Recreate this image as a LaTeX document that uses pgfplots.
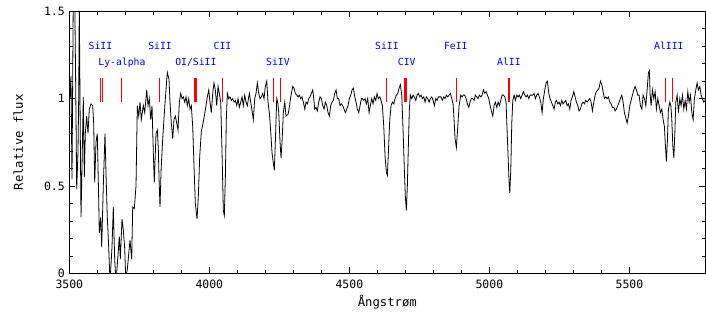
\documentclass[border=0pt]{standalone}
\usepackage{pgfplots}
\pgfplotsset{compat=1.18}
\usepackage{fontspec}
\setmainfont{DejaVu Sans Mono}
\definecolor{markred}{RGB}{255,0,0}
\begin{document}
\begin{tikzpicture}
\begin{axis}[
  at={(0,0)}, anchor=south west,
  scale only axis, width=636bp, height=262bp,
  xmin=3500, xmax=5771, ymin=0, ymax=1.5,
  xtick={3500,4000,4500,5000,5500}, ytick={0,0.5,1,1.5},
  minor x tick num=4, minor y tick num=4,
  tick align=inside, major tick length=6bp, minor tick length=3.5bp,
  tick style={black, line width=0.6pt},
  axis line style={black, line width=0.8pt},
  /pgf/number format/assume math mode=true,
  /pgf/number format/1000 sep={},
  ticklabel style={font=\fontsize{11.5}{12}\selectfont},
  xticklabel style={yshift=-3bp},
  yticklabel style={xshift=-1bp},
  every axis x label/.style={at={(axis description cs:0.5,0)}, yshift=-29bp, anchor=center},
  every axis y label/.style={at={(axis description cs:0,0.5)}, xshift=-51bp, rotate=90, anchor=center},
  label style={font=\fontsize{12.3}{13}\selectfont},
  xlabel={Ångstrøm}, ylabel={Relative flux},
  unbounded coords=jump,
]
\addplot[black, line width=0.8pt] table {
3498 1.16
3502.5 1.0
3506 1.13
3509.6 0.54
3514.3 1.6
3519.3 1.6
3524 0.9
3526.4 0.48
3531 0.69
3533.6 1.01
3535.7 1.55
3538.2 1.0
3541.8 0.32
3545.4 0.61
3550 1.01
3553.6 0.55
3557.1 0.8
3562.1 0.9
3566.8 0.8
3571.4 0.94
3577.5 0.97
3583.6 0.96
3587.1 0.86
3590.7 0.52
3595.4 0.75
3600 0.8
3605 0.42
3607.1 0.23
3612.1 0.32
3615.7 0.15
3621.4 0.5
3627.5 0.8
3631.1 0.57
3635.7 0.32
3640.7 0.15
3645.4 -0.05
3652.5 0.15
3657.1 0.38
3662.1 0.08
3666.8 -0.05
3671.4 0.05
3678.6 0.21
3682.1 0.08
3688.2 0.31
3692.9 0.25
3697.9 0.14
3701.4 -0.02
3707.1 0.02
3712.1 0.11
3716.8 0.19
3722.9 0.08
3726.4 0.38
3732.1 0.37
3738.2 0.5
3742.9 0.96
3747.9 0.9
3752.5 0.98
3757.1 0.88
3764.3 0.96
3769.3 0.92
3776.4 1.05
3781.1 0.96
3785.7 1.0
3790.7 0.88
3795.4 0.96
3800 0.69
3803.6 0.52
3809.6 0.8
3814.3 0.82
3817.9 0.71
3820.5 0.54
3823.9 0.38
3828 0.6
3833.6 0.77
3842 0.98
3850 1.15
3856.1 1.11
3859.6 0.98
3864.3 0.86
3869.3 0.77
3873.9 0.88
3878.6 0.9
3883.6 0.86
3888.2 0.82
3892.9 0.98
3897.9 1.03
3902.5 1.0
3907.1 1.01
3912.1 0.98
3916.8 1.01
3921.4 0.96
3926.4 1.0
3931.1 0.94
3935.7 0.96
3940.7 0.84
3945.4 0.61
3950 0.40
3956.1 0.31
3960.7 0.44
3965.7 0.67
3971.4 0.81
3977.5 0.86
3982.1 0.90
3988.2 0.96
3992.9 1.01
3997.9 1.05
4002.5 0.98
4007.1 0.92
4012.1 1.03
4016.8 1.09
4021.4 1.05
4026.4 0.96
4031.1 1.07
4035.7 1.03
4040.7 0.98
4045.4 0.69
4050 0.36
4053.6 0.33
4057.1 0.54
4060.7 0.88
4064.3 1.03
4069.3 1.0
4073.9 1.01
4078.6 0.99
4083.6 1.0
4088.2 0.98
4092.9 0.99
4097.9 0.96
4102.5 1.0
4107.1 0.95
4112.1 0.98
4116.8 1.01
4121.4 0.96
4126.4 1.02
4131.1 0.98
4135.7 0.96
4142.9 1.03
4147.9 0.98
4153.6 0.92
4157.1 0.88
4162.1 1.0
4166.8 1.03
4171.4 1.09
4176.4 1.03
4181.1 1.0
4185.7 1.01
4190.7 1.03
4195.4 1.0
4200 1.07
4205 1.10
4209.6 0.98
4214.3 0.92
4219.3 0.81
4223.9 0.69
4228.6 0.63
4232.1 0.59
4235.7 0.75
4240.7 1.0
4244.3 0.98
4247.9 0.92
4252.5 0.75
4256.1 0.66
4259.6 0.75
4264.3 0.92
4269.3 0.98
4273.9 0.9
4281.1 0.91
4285.7 0.95
4290.7 1.01
4297.9 1.07
4302.5 1.06
4307.1 1.03
4312.1 1.02
4316.8 1.01
4321.4 1.02
4326.4 1.0
4331.1 1.01
4335.7 0.98
4340.7 0.94
4345.4 0.98
4350 0.97
4355 1.0
4359.6 1.01
4364.3 1.03
4369.3 1.05
4372.9 1.0
4376.4 0.94
4381.1 0.95
4385.7 0.93
4390.7 0.98
4395.4 1.01
4400 1.0
4405 0.96
4409.6 0.94
4414.3 0.98
4419.3 0.96
4423.9 0.92
4428.6 0.90
4433.6 0.96
4438.2 0.98
4442.9 0.99
4447.9 1.03
4452.5 1.05
4457.1 1.0
4462.1 1.0
4466.8 0.96
4471.4 0.97
4476.4 0.96
4481.1 0.94
4485.7 0.92
4490.7 0.94
4495.4 0.96
4500 1.0
4505 1.02
4509.6 1.05
4514.3 1.06
4519.3 1.01
4523.9 0.98
4528.6 0.94
4533.6 0.92
4538.2 0.96
4542.9 1.0
4546.4 1.0
4551.4 0.99
4556.1 1.0
4560.7 0.97
4565.7 1.0
4570.4 0.92
4575 0.96
4580 1.0
4584.6 0.97
4589.3 1.01
4594.3 0.99
4598.9 1.03
4603.6 1.0
4608.6 1.01
4613.2 0.99
4617.9 0.96
4622.9 0.84
4627.5 0.67
4632.1 0.58
4635.7 0.56
4639.3 0.69
4644.3 0.88
4648.9 0.96
4653.6 0.98
4658.6 0.97
4663.2 1.0
4667.9 1.02
4672.9 1.03
4677.5 1.06
4682.1 1.08
4687.1 1.02
4691.8 0.82
4696.4 0.59
4700 0.44
4703.6 0.36
4707.1 0.50
4710.7 0.73
4714.3 0.94
4717.9 1.02
4722.9 1.0
4727.5 1.02
4732.1 1.01
4737.1 0.99
4741.8 1.02
4746.4 1.03
4751.4 1.01
4756.1 1.02
4760.7 1.0
4765.7 1.01
4770.4 0.98
4775 1.01
4780 1.0
4784.6 0.98
4789.3 1.0
4794.3 1.01
4798.9 0.99
4803.6 0.96
4808.6 1.0
4813.2 0.99
4817.9 1.01
4822.9 1.01
4827.5 1.01
4832.1 0.99
4837.1 1.01
4841.8 1.0
4846.4 1.02
4851.4 1.01
4856.1 1.02
4860.7 1.03
4865.7 1.0
4870.4 0.97
4873.9 0.88
4877.5 0.77
4882.1 0.72
4887.1 0.84
4891.8 0.96
4897.9 1.02
4902.5 1.01
4907.1 1.02
4912.1 1.02
4916.8 1.0
4921.4 0.97
4926.4 0.95
4931.1 0.98
4935.7 1.0
4940.7 1.0
4945.4 0.99
4950 1.02
4955 1.01
4959.6 1.0
4964.3 1.02
4969.3 1.01
4973.9 1.02
4978.6 1.05
4983.6 1.03
4988.2 1.04
4992.9 1.02
4997.9 1.0
5002.5 0.96
5007.1 0.93
5012.1 0.90
5016.8 0.96
5021.4 0.98
5026.4 0.95
5031.1 0.98
5035.7 0.96
5040.7 0.99
5045.4 1.02
5050 1.02
5055 1.01
5059.6 0.98
5063.2 0.82
5066.8 0.67
5070.4 0.52
5072.9 0.46
5076.4 0.59
5080 0.86
5083.6 0.99
5088.2 1.02
5092.9 0.99
5097.9 1.02
5102.5 1.01
5107.1 1.02
5112.1 1.0
5116.8 1.02
5121.4 1.04
5126.4 1.02
5131.1 1.01
5135.7 1.02
5140.7 1.0
5145.4 1.02
5150 1.02
5155 1.02
5159.6 1.03
5164.3 1.0
5169.3 1.02
5173.9 1.03
5178.6 1.01
5183.6 0.98
5188.2 0.92
5192.9 1.0
5197.9 1.05
5202.5 1.09
5207.1 1.10
5212.1 1.03
5216.8 1.0
5221.4 0.98
5226.4 0.96
5231.1 0.94
5235.7 0.98
5239.3 0.99
5244.3 0.97
5249 0.98
5253.6 0.96
5258.6 0.99
5263.2 0.97
5267.9 0.98
5272.9 0.99
5277.5 0.96
5282.1 0.97
5287.1 0.94
5291.8 0.99
5296.4 1.01
5301.4 1.04
5306.1 1.01
5310.7 0.98
5315.7 0.96
5320.4 0.93
5325 0.94
5330 0.97
5334.6 0.98
5339.3 0.97
5344.3 0.99
5348.9 0.98
5353.6 0.99
5358.6 1.0
5363.2 0.98
5367.9 0.93
5372.9 0.98
5377.5 1.02
5382.1 1.04
5387.1 1.05
5391.8 1.06
5396.4 1.10
5401.4 1.08
5406.1 1.04
5410.7 1.0
5415.7 1.01
5420.4 1.0
5425 1.01
5430 0.98
5434.6 0.97
5439.3 0.95
5444.3 0.95
5449 0.93
5453.6 0.94
5458.6 0.96
5463.2 0.98
5467.9 1.0
5472.9 1.02
5477.5 0.98
5482.1 0.92
5487.1 0.89
5491.8 0.86
5496.4 0.9
5501.4 0.96
5506.1 0.99
5510.7 1.02
5515.7 1.05
5520.4 1.07
5525 1.05
5530 1.02
5534.6 1.02
5539.3 0.96
5544.3 0.94
5548.9 1.02
5553.6 1.0
5558.6 0.96
5563.2 1.05
5568 1.15
5571.4 1.16
5574 1.02
5577.5 0.96
5582.1 1.05
5587.1 1.0
5591.8 1.04
5596.4 0.94
5601.4 1.0
5606.1 0.96
5610.7 0.92
5615.7 0.94
5620.4 0.88
5625 0.84
5628.6 0.73
5632.1 0.64
5635.7 0.76
5639.3 0.94
5644.3 0.98
5647.9 0.96
5651.4 0.88
5655 0.73
5658.6 0.66
5662.1 0.80
5665.7 0.98
5670.4 1.02
5675 0.92
5680 1.0
5684.6 0.96
5689.3 1.02
5694.3 0.94
5699 0.99
5703.6 0.94
5708.6 1.04
5713.2 0.98
5717.9 1.02
5722.9 0.92
5727.5 0.88
5732.1 1.0
5737.1 1.05
5741.8 1.09
5746.4 1.05
5751.4 1.07
5756 1.02
5760.7 1.0
5765.7 0.98
5770.4 0.99
};
% absorption line markers
\addplot[draw=markred, line width=1.1pt] coordinates {
(3610,0.98) (3610,1.12) (3610,nan)
(3617,0.98) (3617,1.12) (3617,nan)
(3685,0.98) (3685,1.12) (3685,nan)
(3823,0.98) (3823,1.12) (3823,nan)
(3946,0.98) (3946,1.12) (3946,nan)
(3950,0.98) (3950,1.12) (3950,nan)
(3954,0.98) (3954,1.12) (3954,nan)
(4048,0.98) (4048,1.12) (4048,nan)
(4229,0.98) (4229,1.12) (4229,nan)
(4255,0.98) (4255,1.12) (4255,nan)
(4632,0.98) (4632,1.12) (4632,nan)
(4697,0.98) (4697,1.12) (4697,nan)
(4701,0.98) (4701,1.12) (4701,nan)
(4705,0.98) (4705,1.12) (4705,nan)
(4881,0.98) (4881,1.12) (4881,nan)
(5070,0.98) (5070,1.12) (5070,nan)
(5630,0.98) (5630,1.12) (5630,nan)
(5655,0.98) (5655,1.12)
};
\begin{scope}[every node/.style={blue, anchor=base, inner sep=0pt, font=\fontsize{9.8}{10}\selectfont}]
\node at (axis cs:3611,1.284) {SiII};
\node at (axis cs:3824,1.284) {SiII};
\node at (axis cs:4047,1.284) {CII};
\node at (axis cs:4634,1.284) {SiII};
\node at (axis cs:4880,1.284) {FeII};
\node at (axis cs:5641,1.284) {AlIII};
\node at (axis cs:3688,1.191) {Ly-alpha};
\node at (axis cs:3952,1.191) {OI/SiII};
\node at (axis cs:4245,1.191) {SiIV};
\node at (axis cs:4705,1.191) {CIV};
\node at (axis cs:5070,1.191) {AlII};
\end{scope}
\end{axis}
\pgfresetboundingbox
\path[use as bounding box] (-69.3bp,-38.7bp) rectangle (636.7bp,273.3bp);
\end{tikzpicture}
\end{document}
